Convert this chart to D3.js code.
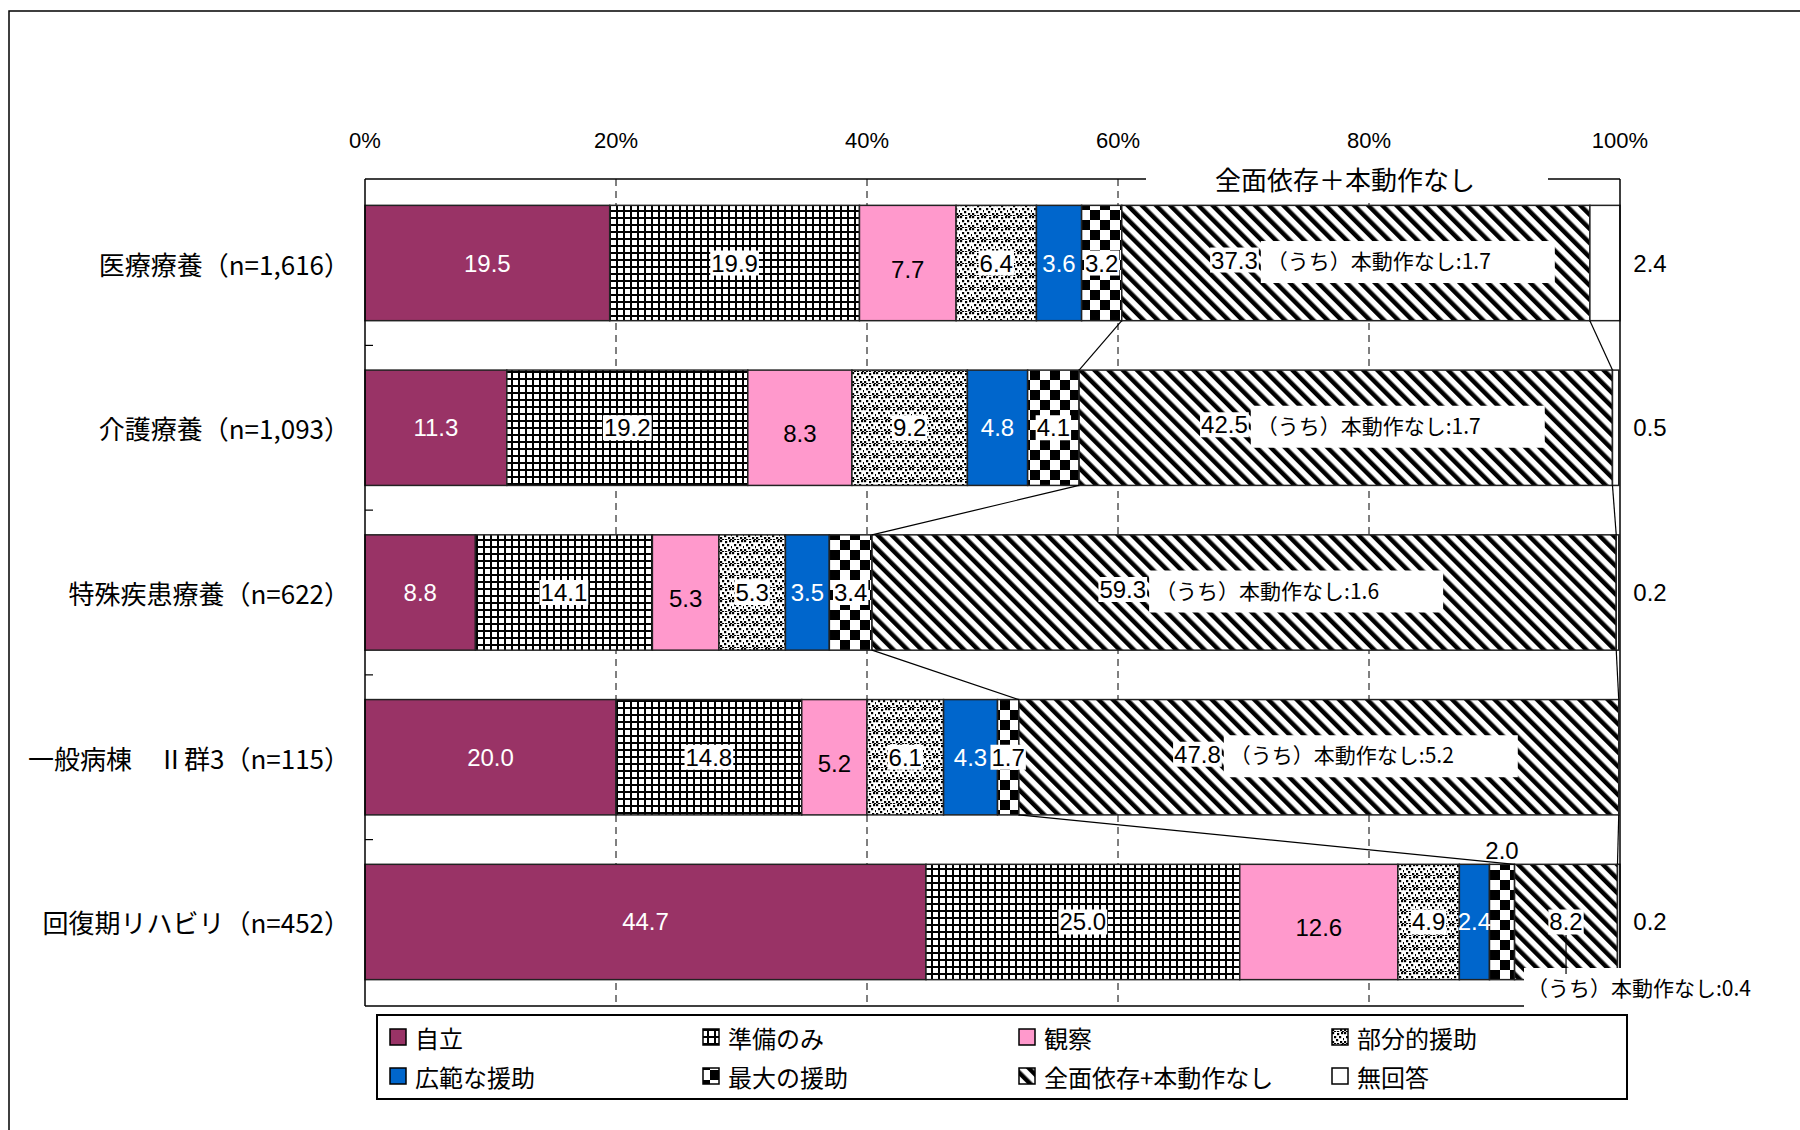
<!DOCTYPE html>
<html><head><meta charset="utf-8">
<script src="https://cdn.jsdelivr.net/npm/d3@7"></script>
<style>body{margin:0;background:#fff}</style>
</head><body><svg id="chart" width="1800" height="1130"></svg>
<script>
// Categories (ward types) and series, values in %
const categories = ["医療療養（n=1,616）","介護療養（n=1,093）","特殊疾患療養（n=622）","一般病棟　Ⅱ群3（n=115）","回復期リハビリ（n=452）"];
const seriesNames = ["自立","準備のみ","観察","部分的援助","広範な援助","最大の援助","全面依存+本動作なし","無回答"];
const jiritsu   = [19.5, 11.3,  8.8, 20.0, 44.7];
const junbi     = [19.9, 19.2, 14.1, 14.8, 25.0];
const kansatsu  = [ 7.7,  8.3,  5.3,  5.2, 12.6];
const bubun     = [ 6.4,  9.2,  5.3,  6.1,  4.9];
const kouhan    = [ 3.6,  4.8,  3.5,  4.3,  2.4];
const saidai    = [ 3.2,  4.1,  3.4,  1.7,  2.0];
const zenmen    = [37.3, 42.5, 59.3, 47.8,  8.2];
const mukaitou  = [ 2.4,  0.5,  0.2,  0,    0.2];
const honDousaNashi = [1.7, 1.7, 1.6, 5.2, 0.4];
const xTicks = [0, 20, 40, 60, 80, 100];
const tickLabels = ["0%","20%","40%","60%","80%","100%"];
const headerText = "全面依存＋本動作なし";

const seriesValues = [jiritsu, junbi, kansatsu, bubun, kouhan, saidai, zenmen, mukaitou];
const rows = categories.map((c, i) => {
  const r = {cat: c};
  seriesNames.forEach((s, k) => r[s] = seriesValues[k][i]);
  return r;
});

const JP = "'Noto Sans CJK JP','Noto Sans',sans-serif";
const NUM = "'Liberation Sans',Arial,sans-serif";

const svg = d3.select("#chart");
const defs = svg.append("defs");

// Fill patterns
const pGrid = defs.append("pattern").attr("id","pGrid").attr("patternUnits","userSpaceOnUse").attr("width",7).attr("height",7);
pGrid.append("rect").attr("width",7).attr("height",7).attr("fill","#000");
pGrid.append("rect").attr("x",2).attr("y",2).attr("width",5).attr("height",5).attr("fill","#fff");

const pDots = defs.append("pattern").attr("id","pDots").attr("patternUnits","userSpaceOnUse").attr("width",12).attr("height",12);
pDots.append("rect").attr("width",12).attr("height",12).attr("fill","#fff");
[[0,0],[5,1],[9,0],[2,4],[7,4],[11,6],[4,7],[0,9],[8,9],[5,11],[10,11],[2,11]].forEach(([a,b]) =>
  pDots.append("rect").attr("x",a).attr("y",b).attr("width",2.2).attr("height",2.2).attr("fill","#000"));

const pCheck = defs.append("pattern").attr("id","pCheck").attr("patternUnits","userSpaceOnUse").attr("width",20).attr("height",20);
pCheck.append("rect").attr("width",20).attr("height",20).attr("fill","#fff");
pCheck.append("rect").attr("width",10).attr("height",10).attr("fill","#000");
pCheck.append("rect").attr("x",10).attr("y",10).attr("width",10).attr("height",10).attr("fill","#000");

const pDiag = defs.append("pattern").attr("id","pDiag").attr("patternUnits","userSpaceOnUse")
  .attr("width",10).attr("height",10).attr("patternTransform","rotate(-45)");
pDiag.append("rect").attr("width",10).attr("height",10).attr("fill","#fff");
pDiag.append("rect").attr("width",4.5).attr("height",10).attr("fill","#000");

const fills = ["#993366","url(#pGrid)","#FF99CC","url(#pDots)","#0066CC","url(#pCheck)","url(#pDiag)","#ffffff"];
// label style per series: colour, white box
const labelColor = ["#fff","#000","#000","#000","#fff","#000","#000","#000"];
const labelBox = [false,true,false,true,false,true,true,false];

// Outer chart frame
svg.append("path").attr("d","M9,1130V11H1800").attr("fill","none").attr("stroke","#000").attr("stroke-width",1.5);

const x = d3.scaleLinear().domain([0,100]).range([365,1620]);
const y = d3.scaleBand().domain(categories).range([179,1006]).paddingInner(0.3).paddingOuter(0.16);
const bw = y.bandwidth();
const plotTop = 179, plotBottom = 1006;

// dashed gridlines
svg.append("g").selectAll("line").data(xTicks.filter(t => t > 0 && t < 100)).join("line")
  .attr("x1", d => x(d)).attr("x2", d => x(d)).attr("y1", plotTop).attr("y2", plotBottom)
  .attr("stroke","#000").attr("stroke-width",1).attr("stroke-dasharray","7,5");

// stacked bars
const stack = d3.stack().keys(seriesNames)(rows);
const gBars = svg.append("g");
stack.forEach((layer, k) => {
  gBars.selectAll(null).data(layer).join("rect")
    .attr("x", d => x(d[0])).attr("y", d => y(d.data.cat))
    .attr("width", d => Math.max(0, x(d[1]) - x(d[0]))).attr("height", bw)
    .attr("fill", fills[k]).attr("stroke","#222").attr("stroke-width",1.5);
});

// series lines linking the 全面依存 segment between bars
const gLines = svg.append("g");
[5, 6].forEach(k => {
  for (let i = 0; i < categories.length - 1; i++) {
    const a = stack[k][i][1], b = stack[k][i+1][1];
    gLines.append("line")
      .attr("x1", x(a)).attr("y1", y(categories[i]) + bw)
      .attr("x2", x(b)).attr("y2", y(categories[i+1]))
      .attr("stroke","#000").attr("stroke-width",1.2);
  }
});

// plot area border
svg.append("line").attr("x1",365).attr("x2",365).attr("y1",plotTop).attr("y2",plotBottom).attr("stroke","#000").attr("stroke-width",1.5);
svg.append("line").attr("x1",365).attr("x2",1620).attr("y1",plotTop).attr("y2",plotTop).attr("stroke","#000").attr("stroke-width",1.5);
svg.append("line").attr("x1",1620).attr("x2",1620).attr("y1",plotTop).attr("y2",plotBottom).attr("stroke","#000").attr("stroke-width",1.5);
svg.append("line").attr("x1",365).attr("x2",1620).attr("y1",plotBottom).attr("y2",plotBottom).attr("stroke","#000").attr("stroke-width",1.5);

// category axis tick marks between bars
const step = y.step();
svg.append("g").selectAll("line").data(categories.slice(0, -1)).join("line")
  .attr("x1",365).attr("x2",373)
  .attr("y1", d => y(d) + bw + (step - bw) / 2).attr("y2", d => y(d) + bw + (step - bw) / 2)
  .attr("stroke","#000").attr("stroke-width",1.2);

// top value axis labels
svg.append("g").selectAll("text").data(xTicks).join("text")
  .attr("x", d => x(d)).attr("y", 140).attr("text-anchor","middle").attr("dominant-baseline","central")
  .attr("font-family", NUM).attr("font-size",22).attr("fill","#000")
  .text((d, i) => tickLabels[i]);

// category labels
svg.append("g").selectAll("text").data(categories).join("text")
  .attr("x", 350).attr("y", d => y(d) + bw / 2).attr("text-anchor","end").attr("dominant-baseline","central")
  .attr("font-family", JP).attr("font-size",26).attr("fill","#000").text(d => d);

// helper: text with optional white background box
function labelText(g, tx, ty, str, opt) {
  const t = g.append("text").attr("x", tx).attr("y", ty)
    .attr("text-anchor", opt.anchor || "middle").attr("dominant-baseline","central")
    .attr("font-family", opt.font || NUM).attr("font-size", opt.size || 24)
    .attr("fill", opt.color || "#000").text(str);
  if (opt.box) {
    const bb = t.node().getBBox();
    g.insert("rect", () => t.node())
      .attr("x", bb.x - 1).attr("y", bb.y + 1).attr("width", bb.width + 2).attr("height", bb.height - 2)
      .attr("fill","#fff");
  }
  return t;
}

const gLab = svg.append("g");
stack.forEach((layer, k) => {
  layer.forEach((d, i) => {
    const v = d[1] - d[0];
    if (!v) return;
    const cy = y(d.data.cat) + bw / 2;
    const cx = (x(d[0]) + x(d[1])) / 2;
    const str = v.toFixed(1);
    const g = gLab.append("g");
    if (k === 7) {
      labelText(g, 1650, cy, str, {color:"#000"});
    } else if (k === 6 && i < 4) {
      // value followed by the (うち)本動作なし note inside the segment
      const right = cx - 98;
      labelText(g, right, cy - 3, str, {anchor:"end", box:true});
      const bx = right + 3;
      g.append("rect").attr("x", bx).attr("y", cy - 22).attr("width", 294).attr("height", 42).attr("fill","#fff");
      g.append("text").attr("x", bx + 6).attr("y", cy - 3).attr("dominant-baseline","central")
        .attr("font-family", JP).attr("font-size",21).attr("fill","#000")
        .text("（うち）本動作なし:" + honDousaNashi[i].toFixed(1));
    } else if (k === 5 && i === 4) {
      labelText(g, cx, y(d.data.cat) - 14, str, {color:"#000"});
    } else {
      labelText(g, cx, cy + (k === 2 ? 6 : 0), str, {color: labelColor[k], box: labelBox[k]});
    }
  });
});

// note below the last bar
{
  const i = 4;
  const d = stack[6][i];
  const cx = (x(d[0]) + x(d[1])) / 2;
  const cy = y(categories[i]) + bw / 2;
  svg.append("rect").attr("x", 1524).attr("y", 968).attr("width", 240).attr("height", 42).attr("fill","#fff");
  svg.append("line").attr("x1", cx).attr("x2", cx).attr("y1", cy + 13).attr("y2", 974).attr("stroke","#000").attr("stroke-width",1.2);
  svg.append("text").attr("x", 1527).attr("y", 987).attr("dominant-baseline","central")
    .attr("font-family", JP).attr("font-size",21).attr("fill","#000")
    .text("（うち）本動作なし:" + honDousaNashi[i].toFixed(1));
}

// header over the 全面依存 range
svg.append("rect").attr("x",1146).attr("y",160).attr("width",402).attr("height",40).attr("fill","#fff");
svg.append("text").attr("x",1345).attr("y",178).attr("text-anchor","middle").attr("dominant-baseline","central")
  .attr("font-family", JP).attr("font-size",26).attr("fill","#000").text(headerText);

// legend
const lg = svg.append("g");
lg.append("rect").attr("x",377).attr("y",1015).attr("width",1250).attr("height",84)
  .attr("fill","#fff").attr("stroke","#000").attr("stroke-width",2);
const colX = [390, 703, 1019, 1332], rowY = [1037, 1076];
seriesNames.forEach((s, k) => {
  const cx = colX[k % 4], cy = rowY[Math.floor(k / 4)];
  lg.append("rect").attr("x", cx).attr("y", cy - 8).attr("width",16).attr("height",16)
    .attr("fill", fills[k]).attr("stroke","#000").attr("stroke-width",1.5);
  lg.append("text").attr("x", cx + 25).attr("y", cy).attr("dominant-baseline","central")
    .attr("font-family", JP).attr("font-size",24).attr("fill","#000").text(s);
});
</script></body></html>
